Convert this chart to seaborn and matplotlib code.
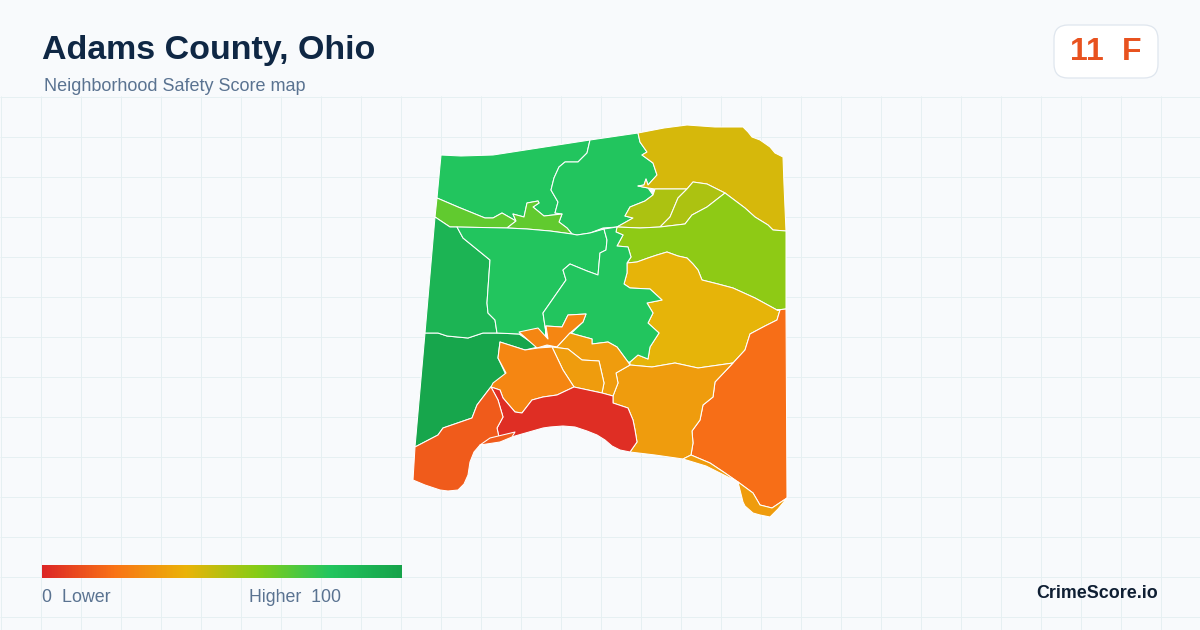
import numpy as np
import matplotlib
matplotlib.use("Agg")
import matplotlib.pyplot as plt
from matplotlib.colors import LinearSegmentedColormap
from matplotlib.patches import FancyBboxPatch, Polygon
import seaborn as sns

TITLE = "Adams County, Ohio"
SUBTITLE = "Neighborhood Safety Score map"
BADGE_SCORE = "11"
BADGE_GRADE = "F"
BRAND = "CrimeScore.io"

NW = [(441,155),(461,156),(493,155),(590,140),(587,153),(578,162),(565,162),(559,167),(554,178),(551,190),(558,202),(555,213),(562,214),(553,215),(544,216),(533,207),(539,203),(538,201),(527,203),(524,217),(513,214),(516,221),(502,213),(493,218),(485,218),(458,207),(437,198)]
N_CENTRAL = [(590,140),(638,133),(640,142),(647,152),(642,155),(653,163),(657,175),(648,185),(646,179),(644,185),(638,186),(648,188),(653,195),(645,201),(630,207),(625,216),(633,218),(617,227),(603,228),(590,233),(577,235),(572,234),(567,228),(559,222),(562,214),(555,213),(558,202),(551,190),(554,178),(559,167),(565,162),(578,162),(587,153)]
STRIP_W = [(437,198),(458,207),(485,218),(493,218),(502,213),(516,221),(507,228),(450,227),(435,217)]
STRIP_E = [(507,228),(516,221),(513,214),(524,217),(527,203),(538,201),(539,203),(533,207),(544,216),(553,215),(562,214),(559,222),(567,228),(572,234),(550,231),(527,229)]
NE = [(638,133),(664,128),(687,125),(715,127),(743,127),(748,132),(752,137),(760,140),(770,147),(775,153),(783,157),(784,185),(786,231),(773,230),(768,225),(755,217),(745,208),(725,193),(707,184),(693,182),(687,189),(655,189),(648,188),(638,186),(644,185),(646,179),(648,185),(657,175),(653,163),(642,155),(647,152),(640,142)]
E_WEST = [(655,189),(687,189),(678,198),(670,217),(660,227),(640,228),(617,227),(633,218),(625,216),(630,207),(645,201),(653,195)]
E_EAST = [(687,189),(693,182),(707,184),(725,193),(707,207),(692,215),(685,224),(660,227),(670,217),(678,198)]
EAST_BAND = [(617,227),(640,228),(660,227),(685,224),(692,215),(707,207),(725,193),(745,208),(755,217),(768,225),(773,230),(786,231),(786,309),(777,310),(755,298),(733,288),(718,284),(702,280),(698,270),(693,264),(687,258),(678,256),(667,252),(657,255),(648,258),(637,262),(627,263),(631,257),(628,247),(617,246),(623,235),(616,232)]
EAST_MID = [(627,263),(637,262),(648,258),(657,255),(667,252),(678,256),(687,258),(693,264),(698,270),(702,280),(718,284),(733,288),(755,298),(777,310),(780,310),(777,320),(765,326),(750,334),(745,350),(733,363),(698,368),(675,363),(652,367),(630,365),(630,362),(638,355),(648,359),(650,347),(659,333),(648,323),(653,313),(647,303),(662,300),(650,289),(630,288),(624,284),(627,273)]
SE = [(777,310),(786,309),(787,498),(772,508),(760,505),(753,493),(738,482),(725,473),(710,463),(691,455),(693,443),(692,431),(700,420),(703,405),(713,397),(715,382),(733,363),(745,350),(750,334),(765,326),(777,320),(780,310)]
S_MID = [(630,365),(652,367),(675,363),(698,368),(733,363),(715,382),(713,397),(703,405),(700,420),(692,431),(693,443),(691,455),(683,459),(655,455),(630,452),(637,442),(635,430),(633,420),(628,408),(613,403),(613,396),(618,383),(616,373)]
TIP = [(738,482),(753,493),(760,505),(772,508),(787,498),(778,509),(770,517),(760,515),(753,513),(745,506),(743,502)]
COAST_SLIVER = [(691,455),(710,463),(725,473),(738,482),(722,474),(706,466),(683,459)]
W_LOWER = [(425,333),(438,333),(447,336),(468,338),(483,333),(497,333),(519,334),(538,347),(525,350),(500,342),(498,358),(506,375),(493,385),(490,388),(477,405),(472,418),(443,428),(438,435),(415,447)]
W_UPPER = [(435,217),(450,227),(457,227),(463,238),(490,260),(487,303),(488,313),(495,320),(497,333),(483,333),(468,338),(447,336),(438,333),(425,333)]
CENTRAL = [(457,227),(507,228),(527,229),(550,231),(572,234),(577,235),(590,233),(604,229),(607,240),(606,250),(600,253),(598,275),(587,271),(570,264),(563,270),(566,280),(543,313),(546,333),(546,338),(537,329),(519,334),(497,333),(495,320),(488,313),(487,303),(490,260),(463,238)]
CENTRAL_E = [(604,229),(617,227),(616,232),(623,235),(617,246),(628,247),(631,257),(627,263),(627,273),(624,284),(630,288),(650,289),(662,300),(647,303),(653,313),(648,323),(659,333),(650,347),(648,359),(638,355),(630,362),(628,362),(617,347),(608,342),(592,344),(592,339),(570,333),(557,347),(583,322),(586,314),(568,315),(562,327),(546,326),(546,338),(546,333),(543,313),(566,280),(563,270),(570,264),(587,271),(598,275),(600,253),(606,250),(607,240)]
HOOK = [(519,332),(538,328),(548,339),(546,326),(562,327),(568,315),(586,314),(583,322),(570,333),(557,347),(547,345),(537,348),(528,340)]
INNER_E = [(557,347),(570,333),(592,339),(592,344),(608,342),(617,347),(628,362),(630,365),(616,373),(618,383),(613,396),(602,393),(604,383),(599,361),(582,360),(568,349),(552,347)]
INNER_W = [(552,347),(568,349),(582,360),(599,361),(604,383),(602,393),(574,387),(563,370)]
S_CENTRAL = [(500,342),(525,350),(538,348),(552,347),(563,370),(574,387),(557,395),(543,397),(532,400),(522,413),(515,412),(503,398),(500,390),(491,387),(493,383),(506,373),(498,358)]
RIVER = [(491,387),(500,390),(503,398),(515,412),(522,413),(532,400),(543,397),(557,395),(574,387),(602,393),(613,396),(613,403),(628,408),(633,420),(635,430),(637,442),(630,452),(620,450),(612,446),(605,440),(597,435),(587,431),(575,427),(563,426),(550,427),(543,428),(515,436),(500,442),(497,428),(503,417),(498,400)]
SW = [(491,387),(498,400),(503,417),(497,428),(500,442),(480,445),(474,452),(470,462),(468,475),(464,484),(458,490),(448,491),(440,490),(425,485),(413,480),(415,447),(438,435),(443,428),(472,418),(477,405),(490,388)]
ISLAND = [(480,445),(490,438),(515,432),(512,437),(500,442)]

REGIONS = [NW, N_CENTRAL, STRIP_W, STRIP_E, NE, E_WEST, E_EAST, EAST_BAND, EAST_MID, SE, S_MID,
           TIP, COAST_SLIVER, W_LOWER, W_UPPER, CENTRAL, CENTRAL_E, HOOK, INNER_E, INNER_W,
           S_CENTRAL, RIVER, SW, ISLAND]
SCORES = [80, 80, 67, 67, 44, 52, 52, 58, 41, 19, 33,
          33, 33, 98, 90, 80, 80, 26, 33, 33,
          26, 2, 14, 14]

LEGEND_STOPS = ["#dc2626", "#f97316", "#eab308", "#84cc16", "#22c55e", "#16a34a"]

BG = "#f8fafc"
sns.set_theme(style="white", rc={"figure.facecolor": BG, "axes.facecolor": BG})
plt.rcParams["font.family"] = ["Liberation Sans", "DejaVu Sans"]

cmap = LinearSegmentedColormap.from_list("score", LEGEND_STOPS)

fig = plt.figure(figsize=(12, 6.3), dpi=100, facecolor=BG)
ax = fig.add_axes([0, 0, 1, 1])
ax.set_xlim(0, 1200)
ax.set_ylim(630, 0)
ax.axis("off")

GRID = "#e6f0f2"
ax.vlines(np.arange(0, 1200, 40) + 0.5, 96, 630, color=GRID, lw=0.72, zorder=1)
ax.hlines(np.arange(96, 630, 40) + 0.5, 0, 1200, color=GRID, lw=0.72, zorder=1)

for outline, score in zip(REGIONS, SCORES):
    ax.add_patch(Polygon(outline, closed=True, facecolor=cmap(score / 100),
                         edgecolor="white", lw=0.75, joinstyle="round", zorder=3))

ax.text(42, 50, TITLE, fontsize=24.5, fontweight="bold", color="#0f2744", va="center", ha="left")
ax.text(44, 86.5, SUBTITLE, fontsize=12.95, color="#5a7391", va="center", ha="left")

ax.add_patch(FancyBboxPatch((1054, 25), 104, 53, boxstyle="round,pad=0,rounding_size=14",
                            facecolor="white", edgecolor="#dfe6ee", lw=0.9, zorder=4))
ax.text(1086.5, 52.5, BADGE_SCORE, fontsize=23, fontweight="bold", color="#e8521f", va="center", ha="center", zorder=5)
ax.text(1132, 52.5, BADGE_GRADE, fontsize=23, fontweight="bold", color="#e8521f", va="center", ha="center", zorder=5)

ax.text(42, 598, "0  Lower", fontsize=12.9, color="#5a7391", va="center", ha="left")
ax.text(249, 598, "Higher  100", fontsize=12.8, color="#5a7391", va="center", ha="left")
ax.text(1158, 594, BRAND, fontsize=12.9, fontweight="bold", color="#0f1f33", va="center", ha="right")

cax = fig.add_axes([42 / 1200, 1 - 578 / 630, 360 / 1200, 13 / 630])
sns.heatmap(np.linspace(0, 100, 360)[None, :], ax=cax, cmap=cmap, vmin=0, vmax=100,
            cbar=False, xticklabels=False, yticklabels=False)

fig.savefig("out.png", dpi=100, facecolor=BG)
